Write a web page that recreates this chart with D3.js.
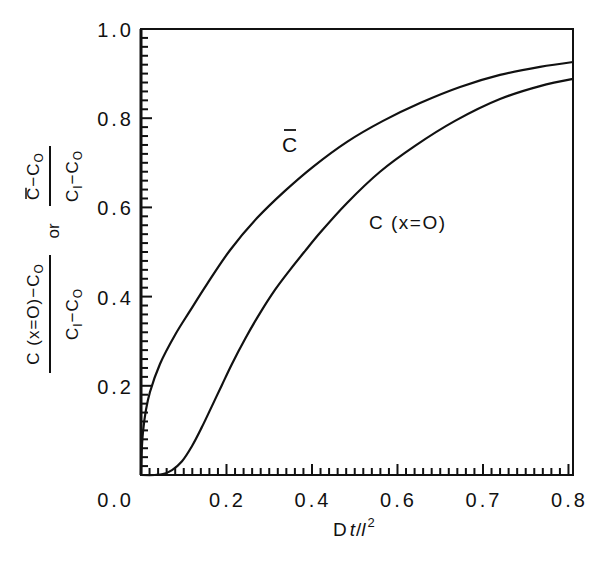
<!DOCTYPE html>
<html><head><meta charset="utf-8">
<script src="https://cdn.jsdelivr.net/npm/d3@7/dist/d3.min.js"></script>
<style>
body{margin:0;background:#fff;}
text{font-family:"Liberation Sans",Arial,sans-serif;fill:#111;}
</style></head>
<body><svg id="c" width="601" height="571"></svg>
<script>
// x positions in major-tick units (tick i carries label xTickLabels[i])
const xTicks = [0, 1, 2, 3, 4, 5];
const xTickLabels = ["0.0", "0.2", "0.4", "0.6", "0.7", "0.8"];
const yTicks = [0, 0.2, 0.4, 0.6, 0.8, 1.0];
const yTickLabels = ["0.0", "0.2", "0.4", "0.6", "0.8", "1.0"];

// C-bar (mean concentration)
const cBarX = [0, 0.006, 0.023, 0.058, 0.105, 0.222, 0.398, 0.573, 0.772, 1.041, 1.357, 1.684, 2.012, 2.410, 2.831, 3.264, 3.732, 4.199, 4.667, 5.053];
const cBarY = [0, 0.045, 0.096, 0.146, 0.186, 0.249, 0.314, 0.368, 0.428, 0.504, 0.576, 0.637, 0.691, 0.747, 0.794, 0.834, 0.870, 0.897, 0.915, 0.926];
// C(x=0) (centre concentration)
const c0X = [0, 0.164, 0.257, 0.363, 0.480, 0.597, 0.714, 0.831, 0.947, 1.064, 1.217, 1.392, 1.567, 1.743, 1.918, 2.094, 2.410, 2.796, 3.205, 3.673, 4.199, 4.667, 5.053];
const c0Y = [0, 0, 0.002, 0.011, 0.031, 0.065, 0.108, 0.155, 0.202, 0.249, 0.305, 0.363, 0.415, 0.460, 0.502, 0.543, 0.610, 0.680, 0.738, 0.794, 0.843, 0.872, 0.888];

const L = 141, R = 573, T = 29, B = 475;
const svg = d3.select("#c");
const x = d3.scaleLinear().domain([0, 5.053]).range([L, R]);
const y = d3.scaleLinear().domain([0, 1]).range([B, T]);
const INK = "#111";

// frame
svg.append("rect").attr("x", L).attr("y", T).attr("width", R - L).attr("height", B - T)
  .attr("fill", "none").attr("stroke", INK).attr("stroke-width", 2);
svg.append("line").attr("x1", L).attr("x2", L).attr("y1", T).attr("y2", B)
  .attr("stroke", INK).attr("stroke-width", 3);

// ticks drawn inward
const xMinor = d3.range(1, 51).map(i => i / 10);
const yMinor = d3.range(1, 50).map(i => i / 50);
const isMajorX = v => Math.abs(v - Math.round(v)) < 1e-6;
const isMajorY = v => Math.abs(v * 5 - Math.round(v * 5)) < 1e-6;
svg.append("g").selectAll("line").data(xMinor).join("line")
  .attr("x1", d => x(d)).attr("x2", d => x(d))
  .attr("y1", B).attr("y2", d => B - (isMajorX(d) ? 11 : 7))
  .attr("stroke", INK).attr("stroke-width", 2);
svg.append("g").selectAll("line").data(yMinor).join("line")
  .attr("y1", d => y(d)).attr("y2", d => y(d))
  .attr("x1", L).attr("x2", d => L + (isMajorY(d) ? 11 : 7))
  .attr("stroke", INK).attr("stroke-width", 2);

// tick labels
svg.append("g").selectAll("text").data(xTicks.slice(1)).join("text")
  .attr("x", d => x(d) + 1).attr("y", B + 32).attr("text-anchor", "middle")
  .attr("font-size", 20).attr("letter-spacing", 3)
  .text((d, i) => xTickLabels[i + 1]);
svg.append("g").selectAll("text").data(yTicks.slice(1)).join("text")
  .attr("x", L - 7).attr("y", d => y(d) + 8).attr("text-anchor", "end")
  .attr("font-size", 20).attr("letter-spacing", 3)
  .text((d, i) => yTickLabels[i + 1]);
// corner label 0.0
svg.append("text").attr("x", L - 7).attr("y", B + 32).attr("text-anchor", "end")
  .attr("font-size", 20).attr("letter-spacing", 3).text(yTickLabels[0]);

// curves
const line = d3.line().x(d => x(d[0])).y(d => y(d[1])).curve(d3.curveCatmullRom.alpha(0.5));
svg.append("path").datum(cBarX.map((v, i) => [v, cBarY[i]]))
  .attr("d", line).attr("fill", "none").attr("stroke", INK).attr("stroke-width", 2.2);
svg.append("path").datum(c0X.map((v, i) => [v, c0Y[i]]))
  .attr("d", line).attr("fill", "none").attr("stroke", INK).attr("stroke-width", 2.2);

// curve labels
svg.append("text").attr("x", 282).attr("y", 152).attr("font-size", 21).text("C");
svg.append("line").attr("x1", 284).attr("x2", 296).attr("y1", 130).attr("y2", 130)
  .attr("stroke", INK).attr("stroke-width", 1.8);
svg.append("text").attr("x", 369).attr("y", 229).attr("font-size", 19).attr("letter-spacing", 1.5).text("C (x=O)");

// x title
const xt = svg.append("text").attr("x", 333).attr("y", 536).attr("font-size", 19);
xt.append("tspan").text("D");
xt.append("tspan").attr("font-style", "italic").attr("dx", 3).text("t");
xt.append("tspan").attr("dx", 1).text("/");
xt.append("tspan").attr("font-style", "italic").text("l");
xt.append("tspan").attr("dy", -9).attr("font-size", 13).attr("dx", 2).text("2");

// y title (rotated)
const yt = svg.append("g").attr("transform", "rotate(-90)");
function frac(num, cx, barLen, overbar) {
  const g = yt.append("g").attr("transform", `translate(${-cx},0)`);
  const n = g.append("text").attr("x", 0).attr("y", 39).attr("text-anchor", "middle")
    .attr("font-size", 17).attr("letter-spacing", 1);
  num(n);
  if (overbar) {
    const r = n.node().getExtentOfChar(0);
    g.append("line").attr("x1", r.x + 1).attr("x2", r.x + r.width - 1)
      .attr("y1", r.y + 2).attr("y2", r.y + 2).attr("stroke", INK).attr("stroke-width", 1.5);
  }
  g.append("line").attr("x1", -barLen / 2).attr("x2", barLen / 2).attr("y1", 50).attr("y2", 50)
    .attr("stroke", INK).attr("stroke-width", 2);
  const d = g.append("text").attr("x", 0).attr("y", 78).attr("text-anchor", "middle")
    .attr("font-size", 17).attr("letter-spacing", 1);
  d.append("tspan").text("C");
  d.append("tspan").attr("dy", 4).attr("font-size", 12).text("I");
  d.append("tspan").attr("dy", -4).text("\u2212C");
  d.append("tspan").attr("dy", 4).attr("font-size", 12).text("O");
}
frac(n => {
  n.append("tspan").text("C (x=O)\u2212C");
  n.append("tspan").attr("dy", 4).attr("font-size", 12).text("O");
}, 314, 118, false);
frac(n => {
  n.append("tspan").text("C\u2212C");
  n.append("tspan").attr("dy", 4).attr("font-size", 12).text("O");
}, 176, 60, true);
yt.append("text").attr("x", -231).attr("y", 59).attr("text-anchor", "middle")
  .attr("font-size", 17).text("or");
</script></body></html>
